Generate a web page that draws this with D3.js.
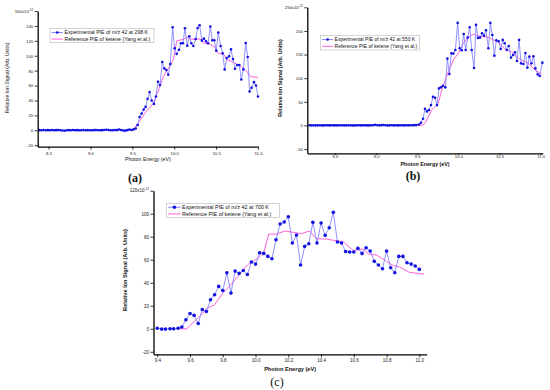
<!DOCTYPE html>
<html>
<head>
<meta charset="utf-8">
<script src="https://cdn.jsdelivr.net/npm/d3@7/dist/d3.min.js"></script>
<style>
body { margin: 0; background: #fff; }
svg { display: block; font-family: Arial, "Liberation Sans", sans-serif; }
</style>
</head>
<body>
<svg id="chart" width="550" height="390"></svg>
<script>
// ---- panel (a) 298 K ----
const aEnergy = [
  8.390, 8.415, 8.440, 8.465, 8.490, 8.515, 8.540, 8.565, 8.590, 8.615, 8.640, 8.665, 8.690, 8.715, 8.740, 8.765,
  8.790, 8.815, 8.840, 8.865, 8.890, 8.915, 8.940, 8.965, 8.990, 9.015, 9.040, 9.065, 9.090, 9.115, 9.140, 9.165,
  9.190, 9.215, 9.240, 9.265, 9.290, 9.315, 9.340, 9.365, 9.390, 9.415, 9.440, 9.465, 9.490, 9.515, 9.540,
  9.563, 9.587, 9.611, 9.635, 9.658, 9.682, 9.706, 9.730, 9.758, 9.782, 9.806, 9.830, 9.857, 9.881, 9.905,
  9.929, 9.953, 9.981, 10.005, 10.029, 10.057, 10.080, 10.104, 10.128, 10.156, 10.180, 10.204, 10.228, 10.256, 10.279,
  10.303, 10.331, 10.355, 10.379, 10.403, 10.431, 10.455, 10.478, 10.502, 10.526, 10.554, 10.578, 10.602, 10.626, 10.654,
  10.678, 10.701, 10.725, 10.753, 10.777, 10.801, 10.825, 10.853, 10.877, 10.900, 10.924, 10.952, 10.976, 11.000
]
const aSignal = [
  0.2, 0.1, 0.3, 0, 0.2, 0.1, 0.4, 0, 0.2, 0.3, 0.1, -0.2, -0.6, 0.1, 0.2, 0,
  0.3, 0.1, 0.2, 0, 0.1, 0.3, 0, 0.2, 0.1, 0, 0.2, 0.3, 0.1, 0, 0.2, 0.4,
  0.8, 0.3, 0.1, 0, 0.3, 0.2, 1.0, 0.4, -0.2, -0.5, 0.2, 1.0, 0.4, 1.2, 2.5,
  7.2, 17.9, 22.4, 27.8, 31.4, 42.2, 51.2, 39.9, 35.4, 45.3, 65.1, 60.6, 91.5, 83.0, 80.8,
  74.5, 88.8, 138.2, 109.9, 102.3, 108.1, 116.7, 116.7, 136.9, 113.5, 126.1, 116.7, 113.1, 122.5, 137.3,
  140.9, 120.3, 122.9, 119.4, 116.7, 139.1, 120.7, 120.7, 106.8, 131.0, 113.1, 103.2, 81.7, 96.9, 99.2,
  108.6, 95.6, 82.6, 87.5, 87.5, 68.2, 81.7, 117.1, 98.3, 52.0, 57.0, 64.6, 60.0, 45.3
]
const aRefEnergy = [9.45, 9.515, 9.59, 9.67, 9.75, 9.82, 9.87, 9.93, 9.99, 10.03, 10.11, 10.15, 10.21, 10.31,
  10.35, 10.41, 10.47, 10.53, 10.59, 10.63, 10.71, 10.79, 10.86, 10.91, 11.0]
const aRefSignal = [0, 1, 13, 26, 36, 56, 72, 83, 95, 120, 122, 125, 122, 122.5,
  117, 116, 113, 103, 102, 95, 91, 86, 80, 72, 71]

// ---- panel (b) 550 K ----
const bEnergy = [
  8.190, 8.215, 8.240, 8.265, 8.290, 8.315, 8.340, 8.365, 8.390, 8.415, 8.440, 8.465, 8.490, 8.515, 8.540, 8.565,
  8.590, 8.615, 8.640, 8.665, 8.690, 8.715, 8.740, 8.765, 8.790, 8.815, 8.840, 8.865, 8.890, 8.915, 8.940, 8.965,
  8.990, 9.015, 9.040, 9.065, 9.090, 9.115, 9.140, 9.165, 9.190, 9.215, 9.240, 9.265, 9.290, 9.315, 9.340, 9.365,
  9.390, 9.415, 9.440, 9.465, 9.490,
  9.521, 9.545, 9.570, 9.594, 9.618, 9.643, 9.667, 9.691, 9.716, 9.740, 9.764, 9.788, 9.813, 9.841, 9.866,
  9.890, 9.914, 9.938, 9.963, 9.991, 10.015, 10.040, 10.064, 10.088, 10.113, 10.137, 10.161, 10.190, 10.214, 10.238,
  10.263, 10.287, 10.311, 10.335, 10.364, 10.388, 10.412, 10.437, 10.461, 10.489, 10.514, 10.538, 10.562, 10.587, 10.611,
  10.639, 10.664, 10.688, 10.712, 10.737, 10.761, 10.789, 10.814, 10.838, 10.862, 10.887, 10.911, 10.935, 10.964, 10.988,
  11.020
]
const bSignal = [
  0.3, 0.1, 0.2, 0, 0.2, 0.4, 0.1, 0, 0.3, 0.2, 0.1, 0.3, 0, 0.2, 0.1, 0.4,
  0.2, 0, 0.1, 0.3, 0.2, 0.1, 0, 0.2, 0.4, 0.1, 0.3, 0.2, 0, 0.1, 0.5, 0.3,
  1.2, 0.4, 0.2, 0.6, 1.0, 0.3, 0.1, 0.2, 0.4, 0.1, 0.3, 0, 0.2, 0.4, 0.1, 0.3,
  0.2, 0.5, 0.3, 0.6, 0.8,
  2, 5.7, 14, 35, 29.7, 32.5, 43, 60.8, 58.7, 43, 78.4, 80.6, 84.1, 80.6, 141.3,
  108.8, 152.7, 152, 159.7, 217, 163.3, 159, 193.6, 159.7, 185.9, 207.8, 159.7, 121.6, 212.7, 185.2,
  185.9, 195, 190, 201.4, 163.3, 217, 191.5, 147.7, 180.2, 178, 161.8, 181, 173.9, 159.7, 168.2,
  143.5, 149.1, 154.8, 136.4, 181, 131.4, 130, 153.4, 122.3, 145.6, 131.4, 146.3, 120.8, 108.1, 104.6,
  132.9
]
const bRefEnergy = [9.45, 9.55, 9.594, 9.675, 9.756, 9.797, 9.878, 9.938, 9.999, 10.06, 10.12, 10.18,
  10.24, 10.30, 10.364, 10.424, 10.485, 10.566, 10.647, 10.749, 10.85, 10.93, 11.01]
const bRefSignal = [0, 0, 4, 32.5, 46.6, 75, 113.8, 138.5, 152.7, 173.9, 186.6, 193,
  189.4, 188, 186.6, 181, 177.4, 161, 156, 140, 131.4, 117.3, 108.8]

// ---- panel (c) 700 K ----
const cEnergy = [
  9.400, 9.427, 9.450, 9.478, 9.500, 9.527, 9.550, 9.575, 9.600, 9.625, 9.650, 9.675, 9.700, 9.725, 9.750, 9.775,
  9.800, 9.825, 9.850, 9.875, 9.900, 9.925, 9.950, 9.975, 10.000, 10.025, 10.050, 10.075, 10.100, 10.125, 10.150, 10.175,
  10.200, 10.225, 10.250, 10.275, 10.300, 10.325, 10.350, 10.375, 10.400, 10.425, 10.450, 10.475, 10.500, 10.525, 10.550,
  10.575, 10.600, 10.625, 10.650, 10.675, 10.700, 10.725, 10.750, 10.775, 10.800, 10.825, 10.850, 10.875, 10.900, 10.925,
  10.950, 10.975, 11.000
]
const cSignal = [
  0.5, -0.3, -0.3, 0, 0, 0.5, 1.5, 7.8, 13.3, 11.6, 4.6, 16.8, 15.0, 25.2, 29.6, 36.8,
  33.3, 48.7, 31.0, 50.1, 48.1, 50.7, 47.2, 58.0, 56.2, 66.0, 65.5, 62.9, 60.9, 77.4, 91.0, 92.8,
  97.4, 74.5, 81.4, 55.4, 71.6, 73.9, 92.5, 74.5, 91.9, 81.2, 87.8, 101.2, 75.4, 74.5, 67.2,
  66.7, 66.7, 69.9, 65.5, 70.4, 67.5, 58.6, 55.4, 52.2, 67.5, 53.0, 48.7, 62.9, 62.9, 57.4,
  56.2, 54.5, 51.6
]
const cRefEnergy = [9.53, 9.58, 9.627, 9.678, 9.70, 9.75, 9.80, 9.825, 9.85, 9.90, 9.925, 9.953, 10.0, 10.03,
  10.05, 10.08, 10.127, 10.18, 10.23, 10.28, 10.33, 10.37, 10.43, 10.48, 10.535, 10.597, 10.657, 10.69,
  10.74, 10.80, 10.84, 10.88, 10.94, 11.03]
const cRefSignal = [0, 0, 6.4, 13.6, 17.4, 20.9, 31, 34.8, 38.3, 47, 51.3, 55.7, 60, 63,
  66, 82.3, 82.3, 85, 83.8, 82.6, 85, 78.3, 78, 76.8, 75.7, 68, 69.3, 65,
  64, 58.6, 55, 53.6, 49, 47.5]

// ---- ticks and labels ----
const abXTicks = [8.5, 9.0, 9.5, 10.0, 10.5, 11.0]
const cXTicks = [9.4, 9.6, 9.8, 10.0, 10.2, 10.4, 10.6, 10.8, 11.0]
const aYTicks = [-20, 0, 20, 40, 60, 80, 100, 120, 140, 160]
const bYTicks = [-50, 0, 50, 100, 150, 200, 250]
const cYTicks = [-20, 0, 20, 40, 60, 80, 100, 120]
const temps = ["298", "550", "700"]
const panelNames = ["(a)", "(b)", "(c)"]
const refName = "Reference PIE of ketene (Yang et al.)"

var panels = [
  { exp: d3.zip(aEnergy, aSignal), ref: d3.zip(aRefEnergy, aRefSignal), xTicks: abXTicks, yTicks: aYTicks,
    xDomain: [8.37, 11.0], yDomain: [-22, 160], left: 37.7, right: 258, top: 11, bottom: 146.7,
    tickFs: 4.3, tickLen: 3, tickPad: 2, titleFs: 5.2, titleW: "normal", r: 1.3, xtY: 161, ytX: 7, ytY: 78,
    leg: { x: 50, y: 28.7, w: 104, h: 14, fs: 5.2 }, lab: { x: 135, y: 182, w: "bold" } },
  { exp: d3.zip(bEnergy, bSignal), ref: d3.zip(bRefEnergy, bRefSignal), xTicks: abXTicks, yTicks: bYTicks,
    xDomain: [8.164, 11.024], yDomain: [-59, 250], left: 307.3, right: 542.7, top: 7.3, bottom: 153.3,
    tickFs: 4.2, tickLen: 1.6, tickPad: 0.6, titleFs: 5.3, titleW: "bold", r: 1.3, xtY: 165.5, ytX: 280, ytY: 78,
    leg: { x: 320.7, y: 35.7, w: 98.6, h: 14.3, fs: 5 }, lab: { x: 413, y: 180, w: "bold" } },
  { exp: d3.zip(cEnergy, cSignal), ref: d3.zip(cRefEnergy, cRefSignal), xTicks: cXTicks, yTicks: cYTicks,
    xDomain: [9.377, 11.045], yDomain: [-22.2, 120], left: 153.5, right: 426.7, top: 190.7, bottom: 354.3,
    tickFs: 4.5, tickLen: 3, tickPad: 1.5, titleFs: 5.6, titleW: "bold", r: 1.8, xtY: 370.5, ytX: 125, ytY: 270,
    leg: { x: 166.7, y: 203.3, w: 112.6, h: 14.4, fs: 5.4 }, lab: { x: 277, y: 386, w: "normal" } }
]

var svg = d3.select("#chart")
svg.append("rect").attr("width", 550).attr("height", 390).attr("fill", "#fff")

var blueLine = "#8585ff", blueDot = "#1212e0", pink = "#ff5fd8"

panels.forEach((p, i) => {
  var x = d3.scaleLinear().domain(p.xDomain).range([p.left, p.right])
  var y = d3.scaleLinear().domain(p.yDomain).range([p.bottom, p.top])
  var g = svg.append("g")

  var line = d3.line().x(d => x(d[0])).y(d => y(d[1]))

  g.append("path").datum(p.ref).attr("d", line)
    .attr("fill", "none").attr("stroke", pink).attr("stroke-width", 1)
  g.append("path").datum(p.exp).attr("d", line)
    .attr("fill", "none").attr("stroke", blueLine).attr("stroke-width", 0.9)
  g.selectAll(".dot").data(p.exp).join("circle")
    .attr("cx", d => x(d[0])).attr("cy", d => y(d[1])).attr("r", p.r).attr("fill", blueDot)

  var topVal = p.yTicks[p.yTicks.length - 1]
  var yAxis = d3.axisLeft(y).tickValues(p.yTicks).tickSize(3).tickSizeOuter(0).tickPadding(1.5)
    .tickFormat(d => d == topVal ? "" : d)
  var xAxis = d3.axisBottom(x).tickValues(p.xTicks).tickSize(p.tickLen).tickSizeOuter(0).tickPadding(p.tickPad)
    .tickFormat(d3.format(".1f"))

  var ya = g.append("g").attr("transform", `translate(${p.left},0)`).call(yAxis)
  var xa = g.append("g").attr("transform", `translate(0,${p.bottom})`).call(xAxis)
  ;[ya, xa].forEach(a => {
    a.select(".domain").attr("stroke", "#000").attr("stroke-width", 1.3)
    a.selectAll(".tick line").attr("stroke", "#000").attr("stroke-width", 0.8)
    a.selectAll(".tick text").attr("font-size", p.tickFs).attr("fill", "#222")
      .attr("font-family", "Arial, 'Liberation Sans', sans-serif")
  })

  // top label with exponent
  var tl = g.append("text").attr("x", p.left - 4.5).attr("y", y(topVal) + 1.5)
    .attr("text-anchor", "end").attr("font-size", p.tickFs).attr("fill", "#222")
  tl.append("tspan").text(topVal + "x10")
  tl.append("tspan").attr("dy", -2).attr("font-size", p.tickFs * 0.7).text("-12")

  // axis titles
  g.append("text").attr("x", (p.left + p.right) / 2).attr("y", p.xtY)
    .attr("text-anchor", "middle").attr("font-size", p.titleFs).attr("font-weight", p.titleW)
    .attr("fill", "#111").text("Photon Energy (eV)")
  g.append("text").attr("transform", `translate(${p.ytX},${p.ytY}) rotate(-90)`)
    .attr("text-anchor", "middle").attr("dy", "0.35em").attr("font-size", p.titleFs)
    .attr("font-weight", p.titleW).attr("fill", "#111").text("Relative Ion Signal (Arb. Units)")

  // legend
  var L = p.leg
  var lg = g.append("g").attr("transform", `translate(${L.x},${L.y})`)
  lg.append("rect").attr("width", L.w).attr("height", L.h)
    .attr("fill", "#fff").attr("stroke", "#aaa").attr("stroke-width", 0.5)
  var rows = [
    { label: "Experimental PIE of m/z 42 at " + temps[i] + " K", color: blueLine, dot: true },
    { label: refName, color: pink, dot: false }
  ]
  var sw = L.w * 0.11
  rows.forEach((r, k) => {
    var ry = L.h * (0.27 + 0.47 * k)
    lg.append("line").attr("x1", 1.5).attr("x2", 1.5 + sw).attr("y1", ry).attr("y2", ry)
      .attr("stroke", r.color).attr("stroke-width", 1)
    if (r.dot) lg.append("circle").attr("cx", 1.5 + sw / 2).attr("cy", ry).attr("r", p.r).attr("fill", blueDot)
    lg.append("text").attr("x", 3 + sw).attr("y", ry).attr("dy", "0.35em")
      .attr("font-size", L.fs).attr("fill", "#111").text(r.label)
  })

  // panel label
  svg.append("text").attr("x", p.lab.x).attr("y", p.lab.y).attr("text-anchor", "middle")
    .attr("font-family", "'Liberation Serif', 'DejaVu Serif', serif").attr("font-size", 12)
    .attr("font-weight", p.lab.w).attr("fill", "#111").text(panelNames[i])
})
</script>
</body>
</html>
